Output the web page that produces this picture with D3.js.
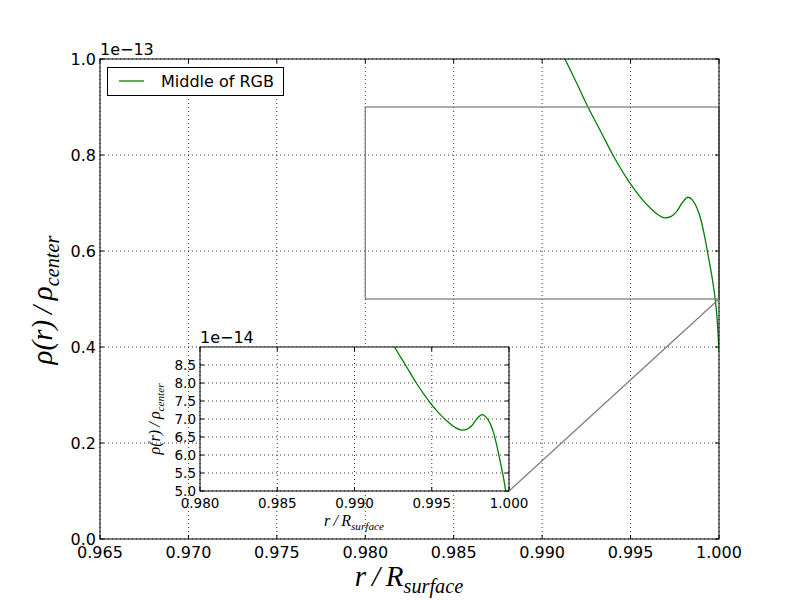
<!DOCTYPE html>
<html><head><meta charset="utf-8">
<script src="https://cdn.jsdelivr.net/npm/d3@7"></script>
<style>body{margin:0;background:#fff}svg{display:block}</style>
</head><body><svg id="c" width="800" height="600"></svg>
<script>
// Data (r/R_surface, rho/rho_center in units of 1e-14)
const rValues = [0.9905,0.99129,0.99195,0.99259,0.99330,0.99400,0.99490,0.99560,0.99610,0.99650,0.99695,0.99730,0.99760,0.99795,0.99825,0.99850,0.99875,0.99900,0.99920,0.99945,0.99965,0.99980,0.99990,1.0000];
const rhoValues = [10.62,10.0,9.5,9.0,8.5,8.0,7.45,7.1,6.9,6.77,6.69,6.72,6.82,7.02,7.12,7.06,6.9,6.62,6.28,5.78,5.35,4.95,4.55,3.9];
const seriesName = "Middle of RGB";
const mainXTicks = [0.965,0.970,0.975,0.980,0.985,0.990,0.995,1.000];
const mainYTicks = [0.0,0.2,0.4,0.6,0.8,1.0];      // x1e-13
const insetXTicks = [0.980,0.985,0.990,0.995,1.000];
const insetYTicks = [5.0,5.5,6.0,6.5,7.0,7.5,8.0,8.5]; // x1e-14
const zoomBox = {x0:0.980,x1:1.000,y0:5.0,y1:9.0}; // inset region (1e-14)

const data = rValues.map((r,i)=>({r, v: rhoValues[i]*1e-14}));
const svg = d3.select("#c");
const GREEN = "#008000";
const sansFont = "DejaVu Sans, sans-serif";
const mathFont = "Liberation Serif, DejaVu Serif, serif";

function drawAxes(g, o){
  const x = d3.scaleLinear().domain(o.xd).range([o.l,o.r]);
  const y = d3.scaleLinear().domain(o.yd).range([o.b,o.t]);
  const clipId = o.id+"clip";
  svg.append("clipPath").attr("id",clipId).append("rect")
    .attr("x",o.l).attr("y",o.t).attr("width",o.r-o.l).attr("height",o.b-o.t);
  g.append("rect").attr("x",o.l).attr("y",o.t).attr("width",o.r-o.l).attr("height",o.b-o.t).attr("fill","#fff");
  // grid
  const grid = g.append("g").attr("stroke","#000").attr("stroke-width",0.8).attr("stroke-dasharray","1,3");
  o.xt.forEach(t=>grid.append("line").attr("x1",x(t)).attr("x2",x(t)).attr("y1",o.t).attr("y2",o.b));
  o.yt.forEach(t=>grid.append("line").attr("y1",y(t*o.ys)).attr("y2",y(t*o.ys)).attr("x1",o.l).attr("x2",o.r));
  // curve
  g.append("path").datum(data).attr("clip-path",`url(#${clipId})`)
    .attr("fill","none").attr("stroke",GREEN).attr("stroke-width",1.3)
    .attr("d", d3.line().x(d=>x(d.r)).y(d=>y(d.v)).curve(d3.curveMonotoneX));
  // ticks inside, all sides
  const tk = g.append("g").attr("stroke","#000").attr("stroke-width",1);
  o.xt.forEach(t=>{
    tk.append("line").attr("x1",x(t)).attr("x2",x(t)).attr("y1",o.b).attr("y2",o.b-4);
    tk.append("line").attr("x1",x(t)).attr("x2",x(t)).attr("y1",o.t).attr("y2",o.t+4);
  });
  o.yt.forEach(t=>{
    tk.append("line").attr("y1",y(t*o.ys)).attr("y2",y(t*o.ys)).attr("x1",o.l).attr("x2",o.l+4);
    tk.append("line").attr("y1",y(t*o.ys)).attr("y2",y(t*o.ys)).attr("x1",o.r).attr("x2",o.r-4);
  });
  // tick labels
  const lab = g.append("g").attr("font-family",sansFont).attr("font-size",o.fs).attr("fill","#000");
  o.xt.forEach(t=>lab.append("text").attr("x",x(t)).attr("y",o.b+o.fs+3).attr("text-anchor","middle").text(d3.format(".3f")(t)));
  o.yt.forEach(t=>lab.append("text").attr("x",o.l-4).attr("y",y(t*o.ys)).attr("dy","0.36em").attr("text-anchor","end").text(d3.format(".1f")(t)));
  lab.append("text").attr("x",o.l).attr("y",o.t-4).attr("font-size",16).text(o.offset);
  return {x,y,frame:()=>g.append("rect").attr("x",o.l).attr("y",o.t).attr("width",o.r-o.l).attr("height",o.b-o.t).attr("fill","none").attr("stroke","#000").attr("stroke-width",1)};
}

function mathLabel(g, x, y, size, rot, main, sub){
  const t = g.append("text").attr("font-family",mathFont).attr("font-style","italic")
    .attr("font-size",size).attr("text-anchor","middle")
    .attr("transform",`translate(${x},${y}) rotate(${rot})`);
  t.append("tspan").text(main);
  t.append("tspan").attr("font-size",size*0.7).attr("dy",size*0.25).text(sub);
}

// Main axes
const mainG = svg.append("g");
const main = drawAxes(mainG,{id:"m",l:100,r:719,t:59,b:539,xd:[0.965,1.0],yd:[0,1e-13],xt:mainXTicks,yt:mainYTicks,ys:1e-13,fs:16,offset:"1e\u221213"});
// zoom rectangle
mainG.append("rect").attr("x",main.x(zoomBox.x0)).attr("y",main.y(zoomBox.y1*1e-14))
  .attr("width",main.x(zoomBox.x1)-main.x(zoomBox.x0)).attr("height",main.y(zoomBox.y0*1e-14)-main.y(zoomBox.y1*1e-14))
  .attr("fill","none").attr("stroke","#808080").attr("stroke-width",1.3);
main.frame();
mathLabel(mainG,409,586,29,0,"r\u2009/\u2009R","surface");
mathLabel(mainG,52,300,29,-90,"ρ(r)\u2009/\u2009ρ","center");

// legend
const leg = mainG.append("g");
leg.append("rect").attr("x",107.5).attr("y",67.5).attr("width",176).attr("height",28).attr("fill","#fff").attr("stroke","#000");
leg.append("line").attr("x1",119).attr("x2",144).attr("y1",81).attr("y2",81).attr("stroke",GREEN).attr("stroke-width",1.3);
leg.append("text").attr("x",161).attr("y",87).attr("font-family",sansFont).attr("font-size",16).text(seriesName);

// Inset axes
const insG = svg.append("g");
const ins = drawAxes(insG,{id:"i",l:200,r:509,t:347,b:491,xd:[zoomBox.x0,zoomBox.x1],yd:[zoomBox.y0*1e-14,zoomBox.y1*1e-14],xt:insetXTicks,yt:insetYTicks,ys:1e-14,fs:13.5,offset:"1e\u221214"});
ins.frame();
mathLabel(insG,354,526,16,0,"r\u2009/\u2009R","surface");
mathLabel(insG,160,419,16,-90,"ρ(r)\u2009/\u2009ρ","center");
// connector from inset lower-right to zoom box lower-right
svg.append("line").attr("x1",ins.x(zoomBox.x1)).attr("y1",ins.y(zoomBox.y0*1e-14))
  .attr("x2",main.x(zoomBox.x1)).attr("y2",main.y(zoomBox.y0*1e-14))
  .attr("stroke","#808080").attr("stroke-width",1.3);
</script></body></html>
